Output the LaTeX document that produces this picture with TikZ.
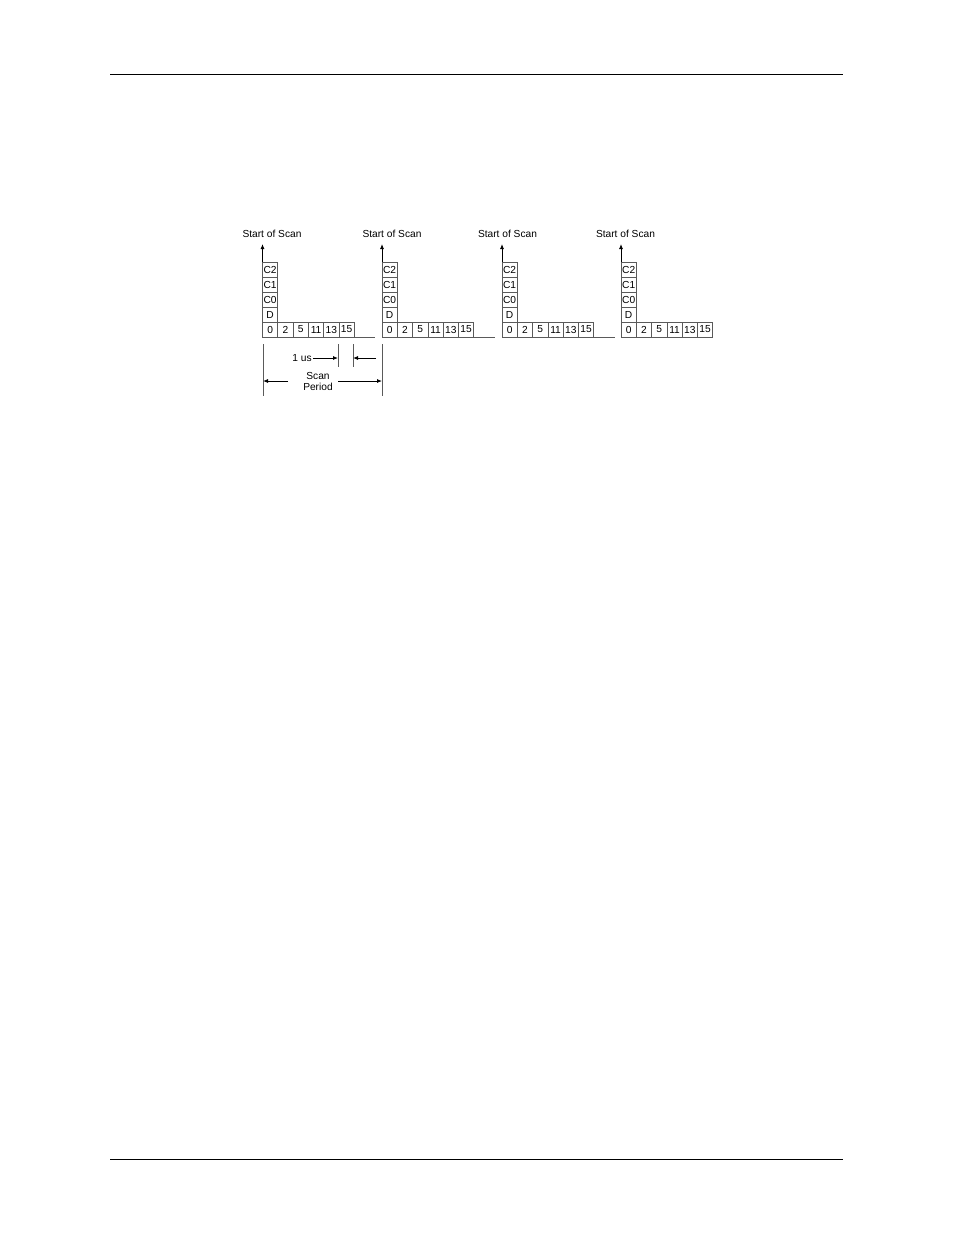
\documentclass[tikz,border=0pt]{standalone}
\usepackage{fontspec}
\setmainfont{Liberation Sans}
\usetikzlibrary{arrows.meta, positioning}
\definecolor{cellgray}{RGB}{90,90,90}
\newcommand{\scanfont}{\fontsize{10.2}{11.5}\selectfont}

\begin{document}
\begin{tikzpicture}[
		x=1pt, y=-1pt,
		cell/.style={rectangle, draw=cellgray, line width=0.8pt, minimum width=15.3pt, minimum height=15pt, inner sep=0pt, outer sep=0pt, font=\scanfont},
		lbl/.style={inner sep=1pt, font=\scanfont, align=center},
		arrow/.style={-{Latex[length=5pt,width=4pt]}, line width=0.8pt},
		dimline/.style={line width=0.8pt, color=cellgray},
		rule/.style={line width=1.3pt}
	]
	\useasboundingbox (0,0) rectangle (954,1235);

	% Page rules
	\draw [rule] (110,74.5) -- (843,74.5);
	\draw [rule] (110,1159.3) -- (843,1159.3);

	% Scan blocks
	\foreach \bx/\lx [count=\i] in {262.5/272, 382/392, 502/507.5, 621/625.5} {
		\node (zero\i) [cell, anchor=south west] at (\bx,337) {0};
		\node (d\i) [cell, above=0pt of zero\i] {D};
		\node (cz\i) [cell, above=0pt of d\i] {C0};
		\node (co\i) [cell, above=0pt of cz\i] {C1};
		\node (ct\i) [cell, above=0pt of co\i] {C2};
		\node (two\i) [cell, right=0pt of zero\i] {2};
		\node (five\i) [cell, right=0pt of two\i] {5};
		\node (elev\i) [cell, right=0pt of five\i] {11};
		\node (thir\i) [cell, right=0pt of elev\i] {13};
		\node (fift\i) [cell, right=0pt of thir\i] {15};
		\coordinate (tip\i) at (\bx,244);
		\draw [arrow] (ct\i.north west) -- (tip\i);
		\node (start\i) [lbl] at (\lx,233.5) {Start of Scan};
		\ifnum\i<4
			\coordinate (ext\i) at ([xshift=21pt]fift\i.south east);
			\draw [dimline] (fift\i.south east) -- (ext\i);
		\fi
	}

	% Timing marks
	\coordinate (pl1) at (263,344);
	\coordinate (pl2) at (263,396);
	\coordinate (pr1) at (382,344);
	\coordinate (pr2) at (382,396);
	\coordinate (ta1) at (338,344);
	\coordinate (ta2) at (338,367);
	\coordinate (tb1) at (353,344);
	\coordinate (tb2) at (353,367);
	\draw [dimline] (pl1) -- (pl2);
	\draw [dimline] (pr1) -- (pr2);
	\draw [dimline] (ta1) -- (ta2);
	\draw [dimline] (tb1) -- (tb2);

	% 1 us
	\node (onems) [lbl] at (302,358) {1 us};
	\coordinate (usa) at (313,358);
	\coordinate (usb) at (338,358);
	\coordinate (usc) at (376,358);
	\coordinate (usd) at (353,358);
	\draw [arrow] (usa) -- (usb);
	\draw [arrow] (usc) -- (usd);

	% Scan period
	\node (period) [lbl] at (318,381.5) {Scan\\Period};
	\coordinate (spa) at (288,381);
	\coordinate (spb) at (263,381);
	\coordinate (spc) at (338,381);
	\coordinate (spd) at (382,381);
	\draw [arrow] (spa) -- (spb);
	\draw [arrow] (spc) -- (spd);

\end{tikzpicture}
\end{document}
